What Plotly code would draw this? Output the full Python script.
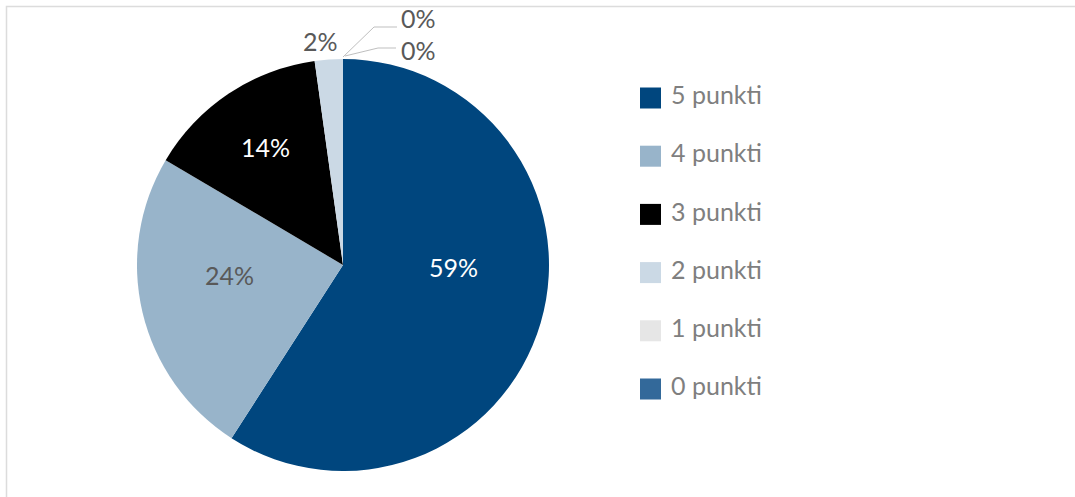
import plotly.graph_objects as go

# Share of respondents by score
categories = ["5 punkti", "4 punkti", "3 punkti", "2 punkti", "1 punkti", "0 punkti"]
shares = [59.1, 24.4, 14.3, 2.2, 0.0, 0.0]
colors = ["#00467E", "#98B4CA", "#000000", "#CBD9E5", "#E6E6E6", "#33699A"]
label_colors = ["#FFFFFF", "#595959", "#FFFFFF", "#595959", "#595959", "#595959"]

W, H = 1075, 497
FONT = "Lato"
LABEL_SIZE = 25
LEGEND_GREY = "#7F7F7F"

# pie geometry in pixels
cx, cy, r = 343, 265, 206


def px(x):
    return x / W


def py(y):
    return 1 - y / H


total = sum(shares)
pct = [f"{round(v / total * 100):.0f}%" for v in shares]

fig = go.Figure()

fig.add_trace(go.Pie(
    labels=categories,
    values=shares,
    sort=False,
    direction="clockwise",
    rotation=0,
    marker=dict(colors=colors, line=dict(width=0)),
    textinfo="none",
    domain=dict(x=[px(cx - r), px(cx + r)], y=[py(cy + r), py(cy - r)]),
    showlegend=False,
    hoverinfo="label+percent",
))

# legend drawn as a column of square markers with labels
n = len(categories)
row_top, row_gap = 98, 58.2
legend_y = [-i for i in range(n)]
y_hi = row_top / row_gap
y_lo = y_hi - H / row_gap
fig.add_trace(go.Scatter(
    x=[650.5] * n,
    y=legend_y,
    mode="markers+text",
    marker=dict(symbol="square", size=21, color=colors, line=dict(width=0)),
    text=[" " + c for c in categories],
    textposition="middle right",
    textfont=dict(family=FONT, size=LABEL_SIZE, color=LEGEND_GREY),
    showlegend=False,
    hoverinfo="skip",
    cliponaxis=False,
))

# data labels; the zero-share slices get leader lines to the pie's top
label_pos = {0: (453, 267), 1: (229, 275), 2: (265, 147),
             3: (320, 41), 4: (418, 18), 5: (418, 50)}
top_x, top_y = cx, cy - r
leaders = {
    4: [(top_x, top_y - 2), (374, 27), (397, 27)],
    5: [(top_x + 2, top_y - 3), (378, 48), (396, 48)],
}
annotations = []
shapes = []
for i in range(n):
    lx, ly = label_pos[i]
    annotations.append(dict(
        x=px(lx), y=py(ly), xref="paper", yref="paper",
        text=pct[i], showarrow=False,
        font=dict(family=FONT, size=LABEL_SIZE, color=label_colors[i]),
        xanchor="center", yanchor="middle",
    ))
    if i in leaders:
        path = "M " + " L ".join(f"{px(a)},{py(b)}" for a, b in leaders[i])
        shapes.append(dict(type="path", path=path, xref="paper", yref="paper",
                           line=dict(color="#BFBFBF", width=1)))

# chart frame
shapes.append(dict(type="rect", xref="paper", yref="paper",
                   x0=px(6.5), x1=1.05, y0=-0.05, y1=py(6.5),
                   line=dict(color="#DCDCDC", width=1.5), layer="below"))

fig.update_layout(
    width=W, height=H,
    margin=dict(l=0, r=0, t=0, b=0),
    paper_bgcolor="white",
    plot_bgcolor="rgba(0,0,0,0)",
    xaxis=dict(range=[0, W], visible=False, fixedrange=True, domain=[0, 1]),
    yaxis=dict(range=[y_lo, y_hi], visible=False, fixedrange=True, domain=[0, 1]),
    annotations=annotations,
    shapes=shapes,
    font=dict(family=FONT),
)

fig.write_html("out.html")
